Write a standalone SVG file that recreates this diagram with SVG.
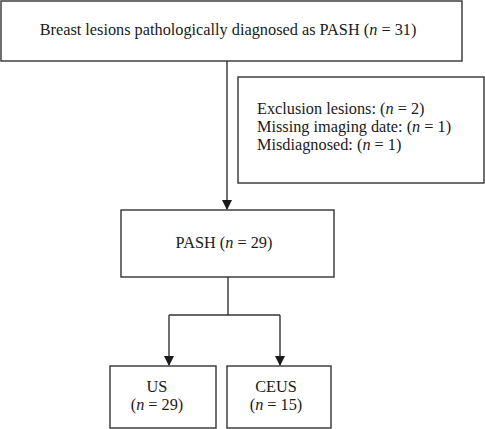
<svg xmlns="http://www.w3.org/2000/svg" width="485" height="429" viewBox="0 0 485 429">
<defs>
<style>
.box{fill:#fff;stroke:#333;stroke-width:1.4}
.t{font-family:"Liberation Serif",serif;font-size:16.3px;fill:#1a1a1a}
.c{fill:none;stroke:#333;stroke-width:1.4}
</style>
<marker id="ah" markerWidth="10" markerHeight="10" refX="9" refY="5" orient="auto" markerUnits="userSpaceOnUse">
<path d="M0,0 L10,5 L0,10 Z" fill="#1a1a1a"/>
</marker>
</defs>
<rect width="485" height="429" fill="#fff"/>
<g id="connectors">
<path class="c" d="M227,61 V209" marker-end="url(#ah)"/>
<path class="c" d="M228,277 V315"/>
<path class="c" d="M169,315 H280"/>
<path class="c" d="M169,315 V365" marker-end="url(#ah)"/>
<path class="c" d="M280,315 V365" marker-end="url(#ah)"/>
</g>
<g id="top">
<rect class="box" x="1" y="1" width="461" height="60"/>
<text class="t" x="228" y="35" text-anchor="middle">Breast lesions pathologically diagnosed as PASH (<tspan font-style="italic">n</tspan> = 31)</text>
</g>
<g id="exclusion">
<rect class="box" x="238" y="77" width="246" height="106"/>
<text class="t" x="257" y="114">Exclusion lesions: (<tspan font-style="italic">n</tspan> = 2)</text>
<text class="t" x="257" y="132">Missing imaging date: (<tspan font-style="italic">n</tspan> = 1)</text>
<text class="t" x="257" y="150">Misdiagnosed: (<tspan font-style="italic">n</tspan> = 1)</text>
</g>
<g id="pash">
<rect class="box" x="121" y="210" width="213" height="67"/>
<text class="t" x="224" y="248" text-anchor="middle">PASH (<tspan font-style="italic">n</tspan> = 29)</text>
</g>
<g id="us">
<rect class="box" x="110" y="366" width="106" height="62"/>
<text class="t" x="157" y="392" text-anchor="middle">US</text>
<text class="t" x="157" y="410" text-anchor="middle">(<tspan font-style="italic">n</tspan> = 29)</text>
</g>
<g id="ceus">
<rect class="box" x="227" y="366" width="104" height="62"/>
<text class="t" x="276" y="392" text-anchor="middle">CEUS</text>
<text class="t" x="276" y="410" text-anchor="middle">(<tspan font-style="italic">n</tspan> = 15)</text>
</g>
</svg>
